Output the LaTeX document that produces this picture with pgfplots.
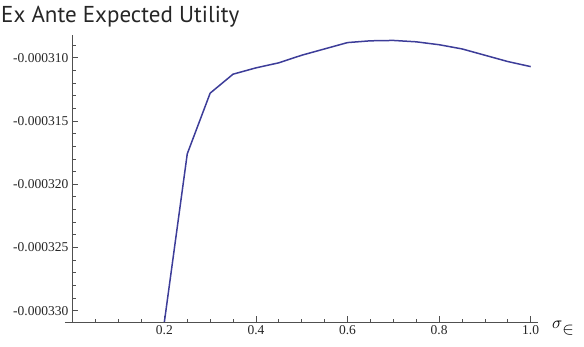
\documentclass[border=0pt]{standalone}
\usepackage{fontspec}
\setmainfont{Liberation Serif}
\newfontfamily\titlefont{PT Sans}
\usepackage{pgfplots}
\pgfplotsset{compat=1.18}
\definecolor{mblue}{RGB}{61,61,153}
\definecolor{axgray}{RGB}{80,80,80}
\begin{document}
\begin{tikzpicture}
\begin{axis}[
  at={(65pt,25pt)}, anchor=south west,
  scale only axis, width=473pt, height=287pt,
  xmin=-0.017, xmax=1.016, ymin=-0.0003309, ymax=-0.0003082,
  axis x line=bottom, axis y line=middle,
  axis line style={-, axgray, line width=0.7pt},
  tick style={axgray, line width=0.7pt},
  major tick length=5.5pt, minor tick length=3pt,
  tick align=inside,
  xtick={0.2,0.4,0.6,0.8,1.0},
  xticklabels={0.2,0.4,0.6,0.8,1.0},
  minor xtick={0.05,0.1,0.15,0.25,0.3,0.35,0.45,0.5,0.55,0.65,0.7,0.75,0.85,0.9,0.95},
  ytick={-0.000330,-0.000325,-0.000320,-0.000315,-0.000310},
  yticklabels={-0.000330,-0.000325,-0.000320,-0.000315,-0.000310},
  minor ytick={-0.000329,-0.000328,-0.000327,-0.000326,-0.000324,-0.000323,-0.000322,-0.000321,-0.000319,-0.000318,-0.000317,-0.000316,-0.000314,-0.000313,-0.000312,-0.000311,-0.000309},
  scaled y ticks=false, scaled x ticks=false,
  tick label style={font=\rmfamily\fontsize{13.5}{15}\selectfont, text=black!85},
  yticklabel style={xshift=-1pt},
  xlabel={$\sigma\raisebox{-6pt}{$\in$}$},
  xlabel style={at={(axis description cs:1,0)}, anchor=base west, inner sep=0pt, xshift=14pt, yshift=-7pt, font=\fontsize{19}{21}\selectfont},
  clip=true,
]
\addplot[mblue, line width=1.5pt] coordinates {
(0.2,-0.0003309)
(0.25,-0.0003176)
(0.3,-0.0003128)
(0.35,-0.0003113)
(0.4,-0.0003108)
(0.45,-0.0003104)
(0.5,-0.0003098)
(0.55,-0.0003093)
(0.6,-0.0003088)
(0.65,-0.00030866)
(0.7,-0.00030863)
(0.75,-0.00030874)
(0.8,-0.00030897)
(0.85,-0.0003093)
(0.9,-0.0003098)
(0.95,-0.0003103)
(1.0,-0.0003107)
};
\end{axis}
\node[anchor=base west, inner sep=0pt, font=\titlefont\fontsize{23}{27}\selectfont, text=black!85] at (1pt,324pt) {Ex Ante Expected Utility};
\pgfresetboundingbox
\path[use as bounding box] (0,0) rectangle (584pt,347pt);
\end{tikzpicture}
\end{document}
